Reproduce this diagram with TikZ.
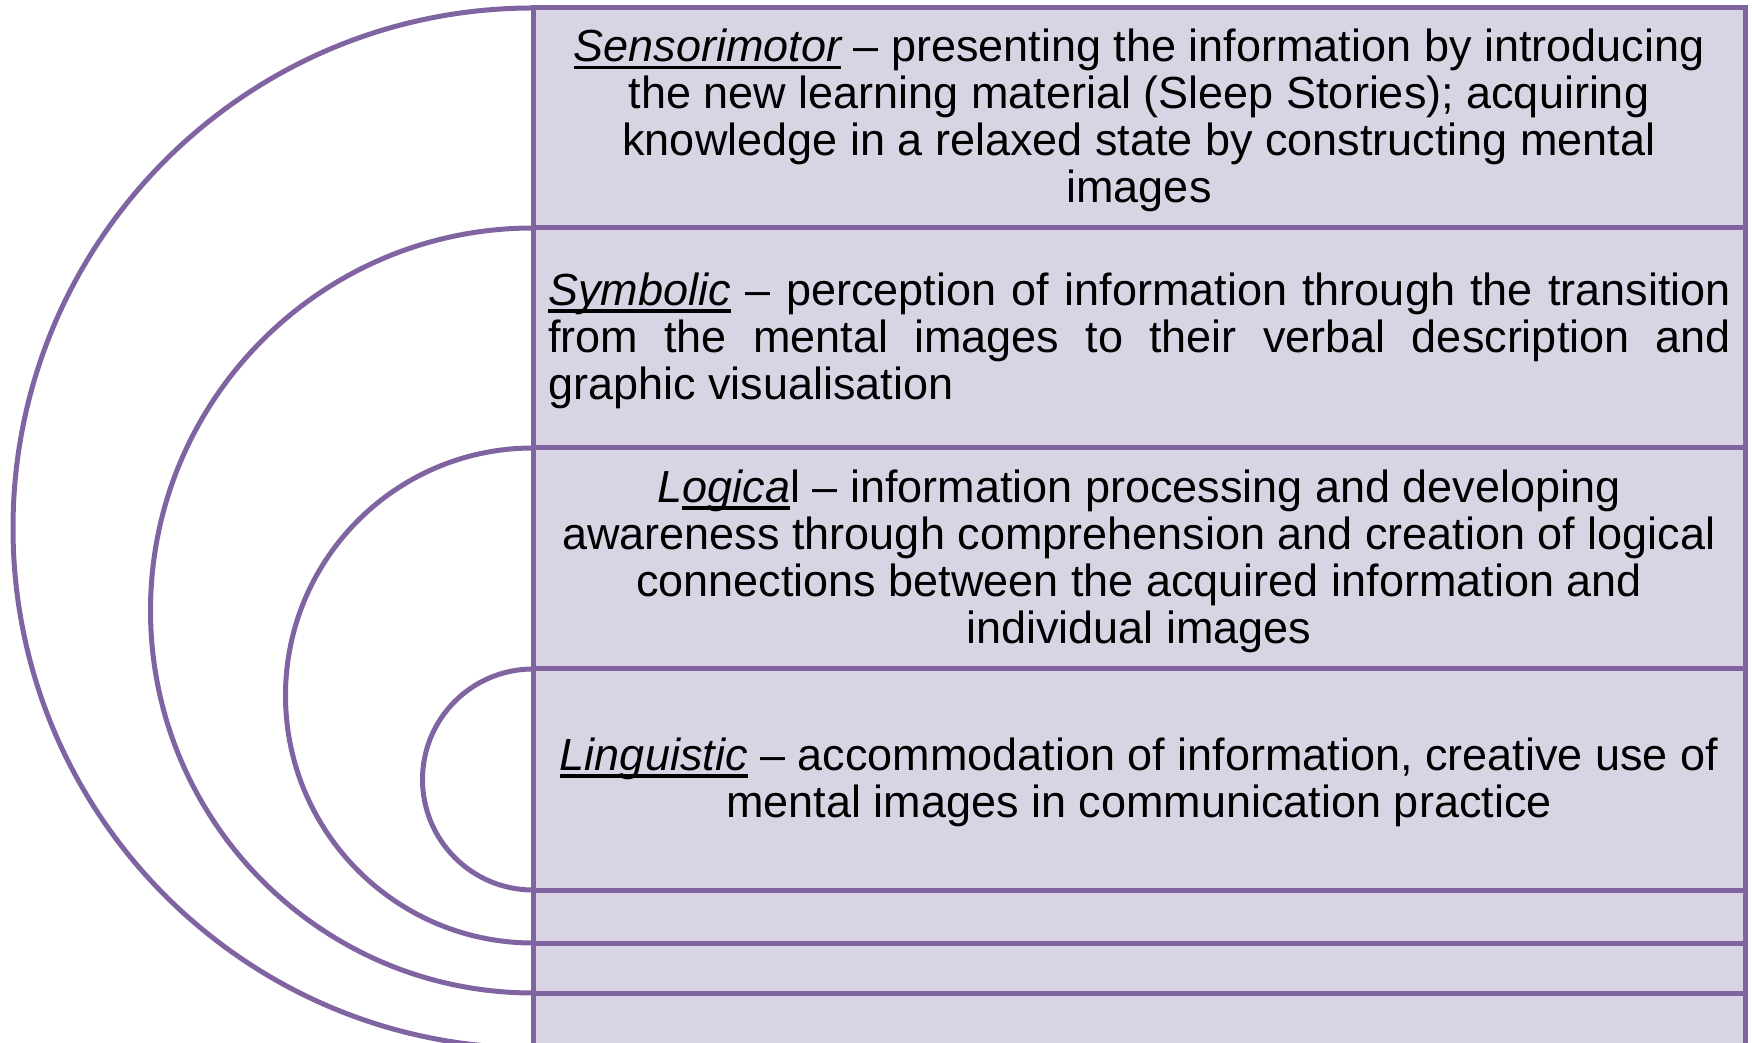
\documentclass[tikz,border=0pt]{standalone}
\usepackage{fontspec}
\setmainfont{Liberation Sans}
\definecolor{ringline}{RGB}{128,100,162}
\definecolor{ringfill}{RGB}{216,212,227}
% underline set just below the baseline, crossing the descenders
\newcommand\ulword[1]{\setbox0\hbox{#1}\rlap{\rule[-7.5pt]{\wd0}{3.5pt}}\box0\relax}
\begin{document}
\begin{tikzpicture}[x=1pt,y=1pt,
  ring/.style={draw=ringline, line width=5pt, fill=ringfill},
  ringarc/.style={draw=ringline, line width=5pt},
  stage/.style={inner sep=0pt, font=\fontsize{45}{47}\selectfont, align=center}]
\useasboundingbox (0,0) rectangle (1752,1042);
\clip (0,0) rectangle (1752,1042);
% nested rings: a rectangle with a half circle on its left side
\foreach \top/\bot in {1034/-6, 814/49, 594/99, 373/152}{
  \pgfmathsetmacro\rad{(\top-\bot)/2}
  \filldraw[ring] (533,\bot) rectangle (1745,\top);
  \draw[ringarc] (533,\top) arc[start angle=90, end angle=270, radius=\rad];
}
\node[stage] (sensorimotor) at (1139,921.5)
  {\ulword{\itshape Sensorimotor} – presenting the information by introducing\\
   the new learning material (Sleep Stories); acquiring\\
   knowledge in a relaxed state by constructing mental\\
   images};
\node[stage, align=left] (symbolic) at (1139.5,701.5)
  {\makebox[1183pt][s]{\ulword{\itshape Symbolic} – perception of information through the transition}\\
   \makebox[1183pt][s]{from the mental images to their verbal description and}\\
   graphic visualisation};
\node[stage] (logical) at (1139,481)
  {\textit{L\ulword{ogica}}l – information processing and developing\\
   awareness through comprehension and creation of logical\\
   connections between the acquired information and\\
   individual images};
\node[stage] (linguistic) at (1139,260)
  {\ulword{\itshape Linguistic} – accommodation of information, creative use of\\
   mental images in communication practice};
\end{tikzpicture}
\end{document}
